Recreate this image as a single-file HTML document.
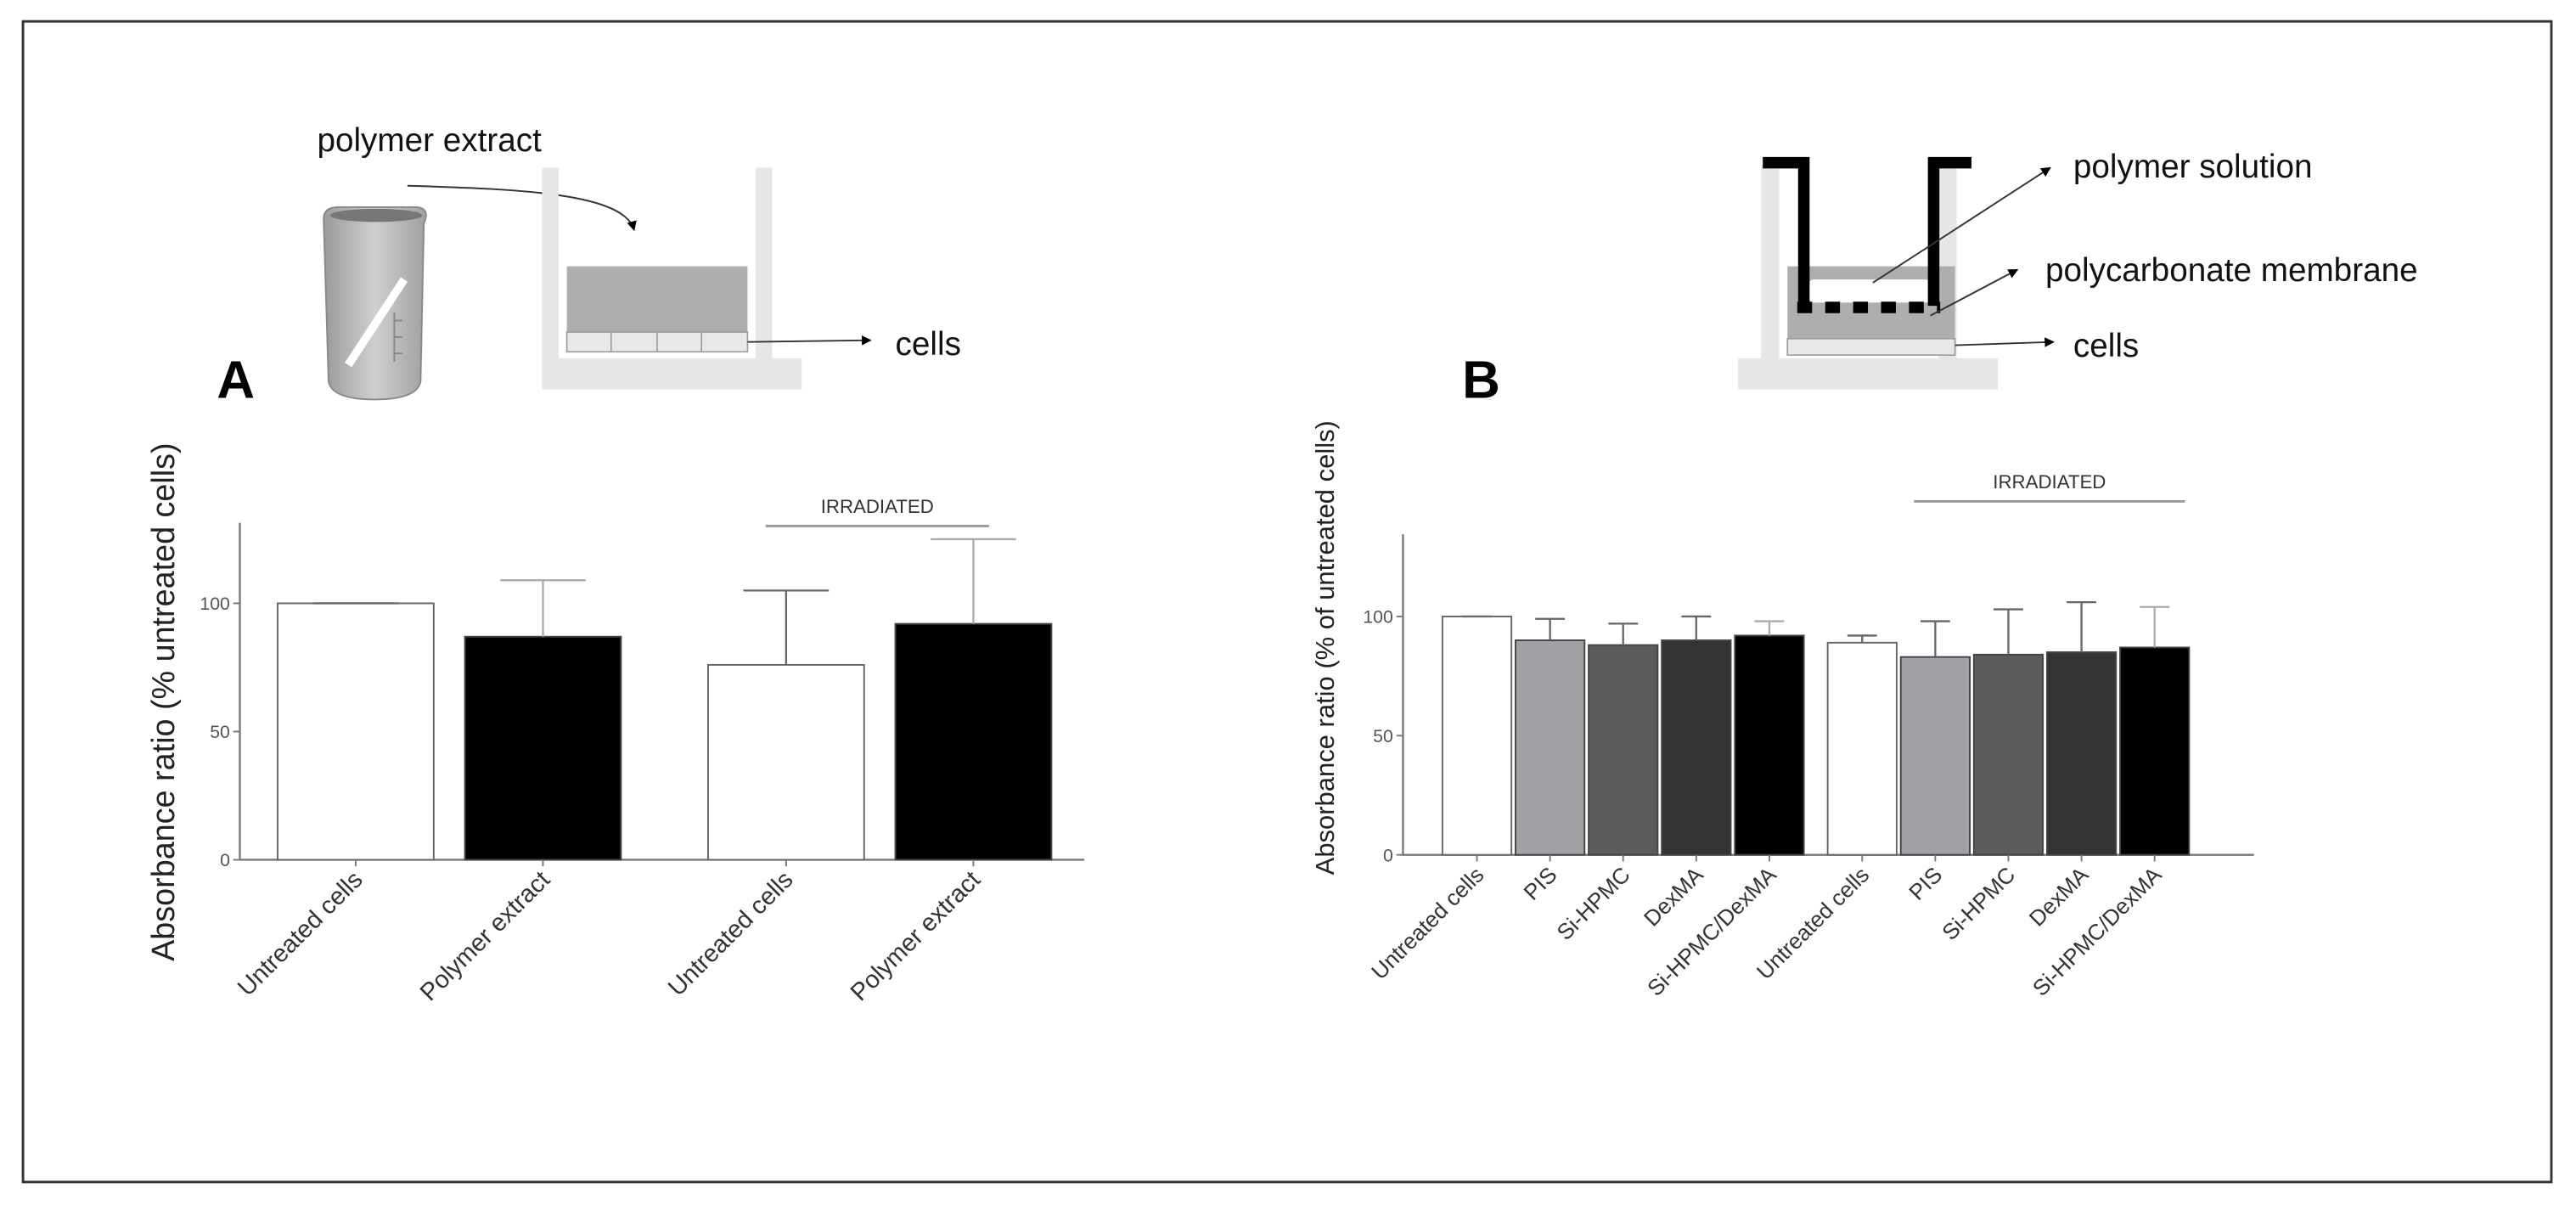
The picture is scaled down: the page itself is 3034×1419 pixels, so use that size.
<!DOCTYPE html>
<html><head><meta charset="utf-8"><style>
html,body{margin:0;padding:0;background:#fff;}
svg{display:block;font-family:"Liberation Sans",Arial,sans-serif;}
</style></head><body>
<svg id="fig" width="3034" height="1419" viewBox="0 0 1568 733" preserveAspectRatio="none" xmlns="http://www.w3.org/2000/svg">
<defs>
<marker id="ah" viewBox="0 0 10 10" refX="9" refY="5" markerWidth="6" markerHeight="6" orient="auto"><path d="M0,0L10,5L0,10z" fill="#000"/></marker>
<linearGradient id="bk" x1="0" x2="1"><stop offset="0" stop-color="#9a9a9a"/><stop offset="0.5" stop-color="#cfcfcf"/><stop offset="1" stop-color="#a0a0a0"/></linearGradient>
</defs>
<rect x="14" y="13" width="1539" height="706" fill="#fff" stroke="#333" stroke-width="1.5"/>

<g>
<text x="193" y="92" font-size="20" fill="#111">polymer extract</text>
<path d="M248,113 C320,115 380,118 386,140" fill="none" stroke="#333" stroke-width="1" marker-end="url(#ah)"/>
<path d="M197,133 Q197,126 206,126 L254,126 Q262,127 258,136 L256,232 Q254,243 228,243 Q202,243 200,232 Z" fill="url(#bk)" stroke="#888" stroke-width="1"/>
<ellipse cx="229" cy="131" rx="28" ry="4" fill="#777"/>
<line x1="212" y1="222" x2="246" y2="170" stroke="#fff" stroke-width="5"/>
<path d="M240,190 L240,220 M240,195 L245,195 M240,205 L245,205 M240,215 L245,215" stroke="#888" stroke-width="1" fill="none"/>
<rect x="330" y="102" width="10" height="120" fill="#e6e6e6"/>
<rect x="460" y="102" width="10" height="120" fill="#e6e6e6"/>
<rect x="330" y="218" width="158" height="19" fill="#e6e6e6"/>
<rect x="345" y="162" width="110" height="40" fill="#b0adad"/>
<rect x="345" y="202" width="110" height="12" fill="#e8e8e8" stroke="#999" stroke-width="0.8"/>
<path d="M372,202v12M400,202v12M427,202v12" stroke="#999" stroke-width="0.8"/>
<line x1="455" y1="208" x2="530" y2="207" stroke="#333" stroke-width="1" marker-end="url(#ah)"/>
<text x="545" y="216" font-size="20" fill="#111">cells</text>
<text x="132" y="242" font-size="32" font-weight="bold" fill="#000">A</text>
</g>

<g>
<rect x="1072" y="100" width="11" height="120" fill="#e6e6e6"/>
<rect x="1180" y="100" width="11" height="120" fill="#e6e6e6"/>
<rect x="1058" y="218" width="158" height="19" fill="#e6e6e6"/>
<rect x="1088" y="162" width="102" height="44" fill="#b0adad"/>
<rect x="1101" y="170" width="74" height="14" fill="#fff" rx="3"/>
<rect x="1088" y="206" width="102" height="10" fill="#e8e8e8" stroke="#999" stroke-width="0.8"/>
<path d="M1073,99 H1098 V186 M1200,99 H1177 V186" fill="none" stroke="#000" stroke-width="7"/>
<path d="M1094,187 H1181" stroke="#000" stroke-width="7" stroke-dasharray="9,8"/>
<line x1="1140" y1="172" x2="1248" y2="102" stroke="#333" stroke-width="1" marker-end="url(#ah)"/>
<line x1="1175" y1="192" x2="1228" y2="164" stroke="#333" stroke-width="1" marker-end="url(#ah)"/>
<line x1="1190" y1="210" x2="1250" y2="208" stroke="#333" stroke-width="1" marker-end="url(#ah)"/>
<text x="1262" y="108" font-size="20" fill="#111">polymer solution</text>
<text x="1245" y="171" font-size="20" fill="#111">polycarbonate membrane</text>
<text x="1262" y="217" font-size="20" fill="#111">cells</text>
<text x="890" y="242" font-size="32" font-weight="bold" fill="#000">B</text>
</g>

<g id="chartA"></g>
<g id="chartB"></g>
</svg>
<script>
const catsA = ["Untreated cells","Polymer extract","Untreated cells","Polymer extract"];
const valsA = [100, 87, 76, 92];
const errA = [100, 109, 105, 125];
const colorsA = ["#fff","#000","#fff","#000"];
const catsB = ["Untreated cells","PIS","Si-HPMC","DexMA","Si-HPMC/DexMA","Untreated cells","PIS","Si-HPMC","DexMA","Si-HPMC/DexMA"];
const valsB = [100, 90, 88, 90, 92, 89, 83, 84, 85, 87];
const errB = [100, 99, 97, 100, 98, 92, 98, 103, 106, 104];
const colorsB = ["#fff","#a2a2a6","#5c5c5c","#333","#000","#fff","#a2a2a6","#5c5c5c","#333","#000"];
const ticks = [0, 50, 100];

const NS = "http://www.w3.org/2000/svg";
function mk(p, tag, a){const e=document.createElementNS(NS,tag);for(const k in a)e.setAttribute(k,a[k]);p.appendChild(e);return e;}

function draw(g, cfg, cats, vals, errs, cols){
  const y = v => cfg.y0 - (cfg.y0 - cfg.y100) * v / 100;
  const x = i => cfg.start + i * cfg.step + (i >= cfg.split ? cfg.gap : 0);
  const ax = mk(g,"path",{d:`M${cfg.ax},${cfg.top}V${cfg.y0}H${cfg.xend}`,fill:"none",stroke:"#777","stroke-width":1.2});
  
  
  ticks.forEach(t=>{
    mk(g,"line",{x1:cfg.ax-4,x2:cfg.ax,y1:y(t),y2:y(t),stroke:"#777"});
    const tl = mk(g,"text",{x:cfg.ax-6,y:y(t)+4,"font-size":11,fill:"#555","text-anchor":"end"});
    tl.textContent=t;
    
    
  });
  cats.forEach((c,i)=>{
    const bx = x(i), cx = bx + cfg.bw/2;
    const r = mk(g,"rect",{x:bx,y:y(vals[i]),width:cfg.bw,height:y(0)-y(vals[i]),fill:cols[i],stroke:cols[i]==="#fff"?"#666":"#444","stroke-width":1});
    
    
    const ec = cols[i]==="#000"?"#aaa":"#666";
    const e = mk(g,"path",{d:`M${cx},${y(vals[i])}V${y(errs[i])}M${cx-cfg.cap},${y(errs[i])}H${cx+cfg.cap}`,stroke:ec,"stroke-width":1.2,fill:"none"});
    
    
    mk(g,"line",{x1:cx,x2:cx,y1:cfg.y0,y2:cfg.y0+4,stroke:"#777"});
    const t = mk(g,"text",{transform:`translate(${cx+5},${cfg.y0+13}) rotate(-45)`,"font-size":cfg.fs,fill:"#333","text-anchor":"end"});
    t.textContent=c;
    
    
  });
  const yt = mk(g,"text",{transform:`translate(${cfg.ytx},${cfg.yty}) rotate(-90)`,"font-size":cfg.yfs,fill:"#222","text-anchor":"middle"});
  yt.textContent=cfg.ytitle;
  
  
  mk(g,"line",{x1:cfg.irx1,x2:cfg.irx2,y1:cfg.iry,y2:cfg.iry,stroke:"#999","stroke-width":1.5});
  const ir = mk(g,"text",{x:(cfg.irx1+cfg.irx2)/2,y:cfg.iry-8,"font-size":cfg.irfs,fill:"#333","text-anchor":"middle"});
  ir.textContent="IRRADIATED";
  
  
}
draw(document.getElementById("chartA"),
 {ax:146,top:318,y0:523,y100:367,xend:660,start:169,step:114,split:2,gap:34,bw:95,cap:26,fs:15,
  ytitle:"Absorbance ratio (% untreated cells)",ytx:106,yty:427,yfs:19.5,irx1:466,irx2:602,iry:320,irfs:11.5},
 catsA,valsA,errA,colorsA);
draw(document.getElementById("chartB"),
 {ax:854,top:325,y0:520,y100:375,xend:1372,start:878,step:44.5,split:5,gap:12,bw:42,cap:9,fs:13.5,
  ytitle:"Absorbance ratio (% of untreated cells)",ytx:812,yty:394,yfs:16,irx1:1165,irx2:1330,iry:305,irfs:11.5},
 catsB,valsB,errB,colorsB);
</script>
</body></html>
